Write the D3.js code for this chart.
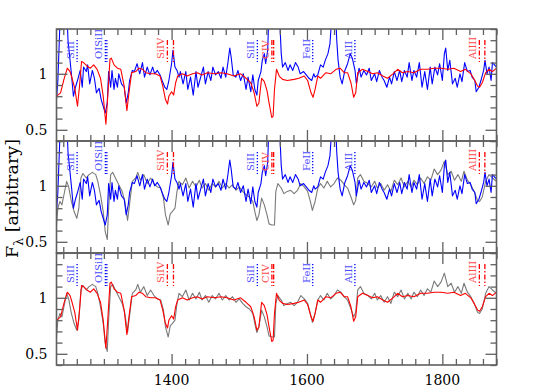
<!DOCTYPE html>
<html><head><meta charset="utf-8">
<script src="https://cdn.jsdelivr.net/npm/d3@7"></script>
<style>body{margin:0;background:#fff} svg{display:block}</style>
</head><body><svg id="c" width="534" height="390"></svg>
<script>
// ---- data ----
const blueWave = [1230,1232,1234,1236,1238,1241,1244,1246,1247,1250,1252,1255,1258,1261,1265,1268,1270,1274,1276,1279,1283,1286,1289,1293,1296,1299,1302,1305,1307,1310,1312,1315,1317,1320,1322,1326,1330,1333,1336,1338,1342,1345,1349,1353,1357,1360,1364,1368,1372,1375,1379,1383,1386,1390,1393,1396,1400,1402,1405,1408,1411,1413,1417,1421,1424,1428,1432,1436,1439,1443,1447,1450,1454,1458,1461,1465,1469,1473,1476,1480,1483,1486,1488,1491,1495,1498,1502,1506,1510,1513,1517,1520,1523,1526,1528,1532,1534,1537,1539,1542,1543,1545,1548,1551,1554,1557,1560,1562,1564,1568,1572,1575,1579,1583,1587,1590,1595,1599,1603,1607,1610,1612,1616,1620,1624,1627,1631,1634,1636,1639,1642,1644,1646,1649,1652,1656,1660,1664,1667,1671,1673,1677,1680,1684,1688,1692,1695,1700,1703,1707,1711,1714,1718,1722,1725,1729,1733,1737,1740,1744,1748,1751,1755,1758,1762,1766,1770,1774,1778,1782,1785,1789,1793,1796,1800,1803,1805,1808,1811,1815,1819,1822,1826,1829,1833,1837,1841,1844,1848,1850,1854,1857,1861,1863,1866,1869,1872,1874,1877,1880];
const blueFlux = [0.77,0.94,1.27,1.6,1.7,1.8,1.6,1.45,1.3,1.12,1.0,0.80,0.88,0.94,1.03,0.88,1.06,1.02,1.08,0.91,1.03,0.96,0.83,0.87,0.77,0.71,0.65,0.74,1.02,0.88,1.03,0.86,0.96,0.88,1.0,0.91,0.88,0.74,0.83,0.94,1.03,1.02,1.09,1.0,1.10,0.97,1.06,0.99,1.06,1.0,1.03,0.99,0.94,0.88,0.86,0.94,1.09,1.21,1.06,1.03,0.97,1.02,0.91,1.02,0.86,0.97,0.81,1.02,0.88,0.97,1.06,0.91,1.02,0.94,1.06,0.99,1.02,0.96,1.06,0.97,1.09,1.23,1.15,0.99,0.97,1.03,0.94,1.0,0.86,0.97,0.84,0.99,0.86,0.81,0.94,1.02,1.12,1.18,1.09,1.21,1.4,1.7,1.9,1.9,1.7,1.6,1.45,1.18,1.06,1.1,1.03,1.08,1.03,1.1,1.06,1.0,1.02,0.99,0.96,0.94,1.0,0.97,0.99,1.08,1.06,1.12,1.18,1.27,1.45,1.7,1.6,1.3,1.12,0.97,0.91,1.03,1.09,1.18,1.14,1.03,0.91,1.05,0.97,1.03,0.99,1.05,0.94,1.0,0.93,1.03,0.97,0.94,0.88,0.97,0.91,1.02,0.94,1.03,0.93,1.03,0.97,1.1,0.94,1.03,0.97,1.1,0.88,1.02,0.86,1.06,0.91,1.06,0.99,1.09,0.94,1.18,1.23,1.03,1.12,0.91,0.96,0.88,1.0,0.93,1.1,1.02,1.03,0.97,0.94,0.84,0.88,0.94,1.03,1.12,1.0,1.06,0.94,1.1,1.08,1.06];

const greyWave = [1230,1232,1235,1238,1241,1245,1248,1252,1256,1260,1263,1266,1269,1274,1278,1283,1288,1291,1295,1299,1302,1305,1307,1310,1313,1317,1322,1327,1331,1335,1339,1342,1347,1350,1354,1359,1364,1369,1374,1379,1384,1388,1391,1395,1398,1401,1405,1408,1411,1416,1421,1426,1431,1436,1441,1445,1450,1455,1460,1465,1470,1475,1480,1485,1490,1495,1500,1505,1510,1515,1520,1523,1526,1529,1533,1537,1541,1544,1548,1552,1554,1557,1562,1566,1571,1576,1581,1586,1591,1596,1601,1605,1608,1612,1616,1620,1625,1630,1635,1640,1645,1650,1655,1660,1665,1669,1672,1675,1679,1684,1690,1695,1700,1704,1709,1714,1719,1724,1729,1734,1739,1744,1749,1754,1758,1763,1768,1773,1778,1783,1788,1793,1798,1803,1808,1813,1818,1823,1828,1832,1837,1842,1847,1852,1855,1859,1864,1869,1874,1880];
const greyFlux = [0.65,0.80,0.86,0.83,0.92,1.04,0.99,0.86,0.77,0.71,0.80,1.07,1.11,1.07,1.10,1.12,1.10,1.04,0.92,0.77,0.59,0.52,0.80,1.10,1.12,1.07,1.01,0.95,0.86,0.69,0.89,1.04,1.07,1.12,1.05,1.10,1.02,1.07,1.02,0.99,0.98,0.89,0.74,0.65,0.75,0.77,0.80,0.95,1.04,1.01,1.07,0.98,1.04,0.99,1.05,0.98,1.02,0.96,1.02,0.99,1.04,0.98,1.02,0.98,1.01,0.96,0.99,0.95,0.92,0.90,0.86,0.77,0.69,0.74,0.89,0.83,0.74,0.66,0.65,0.65,0.95,1.02,0.98,0.93,0.95,0.96,0.93,0.96,1.02,0.99,0.95,0.86,0.78,0.86,0.98,1.02,0.98,1.04,0.99,1.02,1.07,1.05,1.01,0.98,0.90,0.83,0.87,1.07,1.10,1.04,1.02,0.99,1.04,0.98,1.02,0.96,1.01,0.95,1.05,1.01,1.07,0.99,1.04,0.99,1.05,1.01,1.07,1.02,1.08,1.05,1.15,1.10,1.14,1.22,1.10,1.13,1.05,1.10,1.04,1.13,1.05,1.01,0.95,0.87,0.86,0.90,1.04,1.10,1.07,1.04];

const redWave = [1230,1236,1241,1246,1250,1253,1257,1261,1264,1267,1270,1275,1280,1285,1290,1295,1299,1303,1306,1309,1311,1315,1320,1325,1330,1334,1337,1341,1347,1352,1357,1362,1369,1376,1383,1387,1391,1394,1396,1400,1403,1406,1409,1416,1423,1431,1438,1445,1453,1463,1473,1482,1492,1502,1510,1517,1522,1526,1529,1533,1537,1541,1544,1548,1550,1552,1555,1559,1564,1571,1581,1588,1596,1601,1606,1609,1612,1616,1620,1628,1635,1643,1649,1655,1660,1665,1669,1672,1675,1682,1690,1697,1704,1712,1719,1727,1734,1741,1749,1758,1768,1778,1788,1798,1808,1817,1827,1834,1842,1847,1852,1855,1859,1864,1869,1874,1880];
const redFlux = [0.80,0.83,0.95,1.05,1.02,0.96,0.87,0.71,0.89,1.11,1.10,1.07,1.05,1.08,1.04,0.96,0.80,0.55,0.83,1.13,1.14,1.08,1.05,1.04,0.89,0.67,0.83,1.01,1.02,1.05,1.04,1.01,1.0,1.0,0.98,0.89,0.77,0.73,0.80,0.84,0.81,0.92,0.98,1.0,0.98,1.0,1.01,0.99,1.01,1.0,1.01,1.0,0.98,1.0,0.96,0.92,0.83,0.71,0.74,0.96,0.93,0.85,0.74,0.61,0.62,0.86,1.04,0.98,0.95,0.94,0.95,0.96,0.98,0.94,0.83,0.79,0.86,0.98,0.96,1.01,1.0,1.04,1.05,1.01,1.01,0.92,0.79,0.83,1.01,1.04,1.02,1.0,1.01,0.98,0.96,1.0,1.04,1.01,1.02,1.01,1.04,1.04,1.05,1.05,1.04,1.05,1.02,1.04,1.0,0.95,0.89,0.88,0.92,1.01,1.04,1.02,1.05];

const lineLabels = ["SiII","OISiII","SiIV","SiII","CIV","FeII","AlII","AlIII"];
const lineWaves = [[1260.4],[1302.2,1304.4],[1393.8,1402.8],[1526.7],[1548.2,1550.8],[1608.5],[1670.8],[1854.7,1862.8]];
const lineKinds = ["low","low","high","low","high","low","low","high"];

const xMajor = [1400,1600,1800];
const yMajor = [0.5,1];
const yMajorLabels = ["0.5","1"];

// ---- layout ----
const L = 56.5, R = 496.5, T0 = 29, PH = 112;
const xDomain = [1230,1880], yDomain = [0.4,1.4];
const COL = {blue:"#0000ff", red:"#ff0000", grey:"#7a7a7a", frame:"#606060"};
const FONT = "DejaVu Serif";
const svg = d3.select("#c");
const x = d3.scaleLinear().domain(xDomain).range([L,R]);
const xMinor = d3.range(1240,1881,20).filter(v=>!xMajor.includes(v));
const yMinor = d3.range(4,15).map(v=>v/10).filter(v=>!yMajor.includes(v));

const series = {
  blue: blueWave.map((w,i)=>[w,blueFlux[i]]),
  grey: greyWave.map((w,i)=>[w,greyFlux[i]]),
  red: redWave.map((w,i)=>[w,redFlux[i]])
};
const panels = [["blue","red"],["grey","blue"],["grey","red"]];

panels.forEach((ser,pi)=>{
  const top = T0 + pi*PH, bot = top + PH;
  const y = d3.scaleLinear().domain(yDomain).range([bot,top]);
  const g = svg.append("g");
  const cid = "clip"+pi;
  svg.append("clipPath").attr("id",cid).append("rect").attr("x",L).attr("y",top).attr("width",R-L).attr("height",PH);
  const gl = g.append("g").attr("clip-path",`url(#${cid})`);
  ser.forEach(s=>{
    const line = d3.line().x(d=>x(d[0])).y(d=>y(d[1])).curve(d3.curveLinear);
    gl.append("path").datum(series[s]).attr("d",line).attr("fill","none")
      .attr("stroke",COL[s]).attr("stroke-width",1.1).attr("stroke-linejoin","round");
  });
  // line markers
  lineLabels.forEach((lab,i)=>{
    const col = lineKinds[i]==="low" ? COL.blue : COL.red;
    lineWaves[i].forEach(w=>{
      gl.append("line").attr("x1",x(w)).attr("x2",x(w)).attr("y1",top+11).attr("y2",top+33)
        .attr("stroke",col).attr("stroke-width",1.3)
        .attr("stroke-dasharray", lineKinds[i]==="low" ? "1.3,1.7" : "5,2,1.5,2");
    });
    const x0 = x(lineWaves[i][0]) - 3;
    g.append("text").attr("transform",`translate(${x0},${top+30}) rotate(-90)`)
      .attr("font-family",FONT).attr("font-size",10)
      .attr("fill", lineKinds[i]==="low" ? "#4a4aff" : "#ff4a4a")
      .text(lab);
  });
  // axes (inward ticks)
  [[d3.axisBottom(x), bot],[d3.axisTop(x), top]].forEach(([gen,yy])=>{
    g.append("g").attr("transform",`translate(0,${yy})`).call(gen.tickValues(xMinor).tickSize(-6).tickFormat(""));
    g.append("g").attr("transform",`translate(0,${yy})`).call(gen.tickValues(xMajor).tickSize(-11).tickFormat(""));
  });
  [[d3.axisLeft(y), L],[d3.axisRight(y), R]].forEach(([gen,xx])=>{
    g.append("g").attr("transform",`translate(${xx},0)`).call(gen.tickValues(yMinor).tickSize(-6).tickFormat(""));
    g.append("g").attr("transform",`translate(${xx},0)`).call(gen.tickValues(yMajor).tickSize(-11).tickFormat(""));
  });
  g.selectAll(".domain").remove();
  g.selectAll(".tick line").attr("stroke",COL.frame).attr("stroke-width",1.3);
  g.append("rect").attr("x",L).attr("y",top).attr("width",R-L).attr("height",PH)
    .attr("fill","none").attr("stroke",COL.frame).attr("stroke-width",1.6);
  // y labels
  yMajor.forEach((v,i)=>{
    g.append("text").attr("x",L-9).attr("y",y(v)+5).attr("text-anchor","end")
      .attr("font-family",FONT).attr("font-size",14).attr("fill","#000").text(yMajorLabels[i]);
  });
  if(pi===2){
    xMajor.forEach(v=>{
      g.append("text").attr("x",x(v)).attr("y",bot+20).attr("text-anchor","middle")
        .attr("font-family",FONT).attr("font-size",14).attr("fill","#000").text(String(v));
    });
  }
});

// y title
const yt = svg.append("text").attr("transform","translate(18,258) rotate(-90)")
  .attr("font-family",FONT).attr("font-size",17.5).attr("fill","#000");
yt.append("tspan").text("F");
yt.append("tspan").attr("dy",5).attr("font-size",12.5).text("λ");
yt.append("tspan").attr("dy",-5).text(" [arbitrary]");
</script></body></html>
